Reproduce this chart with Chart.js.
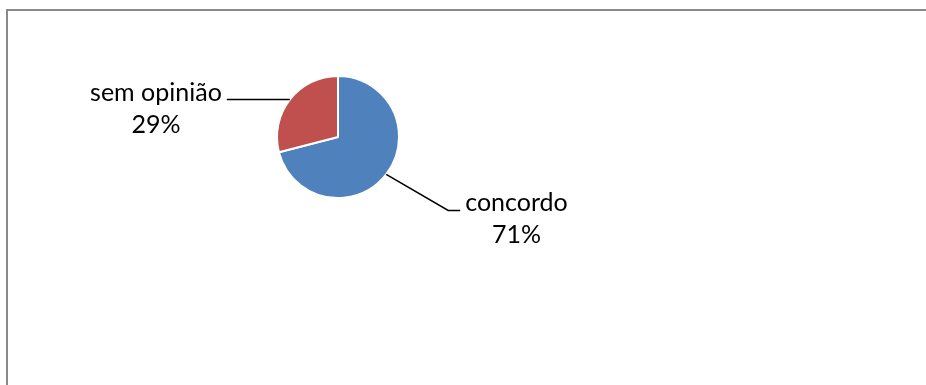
<!DOCTYPE html>
<html>
<head>
<meta charset="utf-8">
<script src="https://cdn.jsdelivr.net/npm/chart.js@4/dist/chart.umd.min.js"></script>
<style>
  html, body { margin: 0; padding: 0; background: #fff; overflow: hidden; }
  #wrap { position: relative; width: 926px; height: 385px; }
  #frame { position: absolute; left: 6px; top: 9px; width: 940px; height: 400px; border: 2px solid #8a8a8a; box-sizing: border-box; }
  canvas { position: absolute; left: 0; top: 0; }
</style>
</head>
<body>
<div id="wrap">
  <div id="frame"></div>
  <canvas id="pieChart" width="926" height="385"></canvas>
</div>
<script>
const labels = ["concordo", "sem opinião"];
const values = [71, 29];
const colors = ["#4F81BD", "#C0504D"];

// leader line shape per slice: diagonal leg, then short horizontal leg
const leaders = [
  { dx: 62, dy: 36, tail: 12, side: "right" },
  { dx: -1, dy: 0, tail: -62, side: "left" }
];

const sliceLabels = {
  id: "sliceLabels",
  afterDatasetsDraw(chart) {
    const ctx = chart.ctx;
    const meta = chart.getDatasetMeta(0);
    const total = values.reduce((a, b) => a + b, 0);
    ctx.save();
    ctx.font = "25px Lato";
    ctx.fillStyle = "#000";
    ctx.strokeStyle = "#000";
    ctx.lineWidth = 1.5;
    meta.data.forEach((arc, i) => {
      const { x, y, startAngle, endAngle, outerRadius } = arc.getProps(["x", "y", "startAngle", "endAngle", "outerRadius"], true);
      const mid = (startAngle + endAngle) / 2;
      const ex = x + Math.cos(mid) * outerRadius;
      const ey = y + Math.sin(mid) * outerRadius;
      const l = leaders[i];
      const kx = ex + l.dx, ky = ey + l.dy;
      const tx = kx + l.tail;
      ctx.beginPath();
      ctx.moveTo(ex, ey);
      ctx.lineTo(kx, ky);
      ctx.lineTo(tx, ky);
      ctx.stroke();

      const pct = Math.round(values[i] / total * 100) + "%";
      const w = ctx.measureText(labels[i]).width;
      const cx = l.side === "right" ? tx + 5 + w / 2 : tx - 5 - w / 2;
      ctx.textAlign = "center";
      ctx.textBaseline = "alphabetic";
      ctx.fillText(labels[i], cx, ky + 1);
      ctx.fillText(pct, cx, ky + 33);
    });
    ctx.restore();
  }
};

new Chart(document.getElementById("pieChart"), {
  type: "pie",
  data: {
    labels,
    datasets: [{
      data: values,
      backgroundColor: colors,
      borderColor: "#fff",
      borderWidth: 2
    }]
  },
  options: {
    responsive: false,
    animation: false,
    layout: { padding: { left: 276, top: 75, right: 526, bottom: 186 } },
    plugins: {
      legend: { display: false },
      tooltip: { enabled: false }
    }
  },
  plugins: [sliceLabels]
});
</script>
</body>
</html>
